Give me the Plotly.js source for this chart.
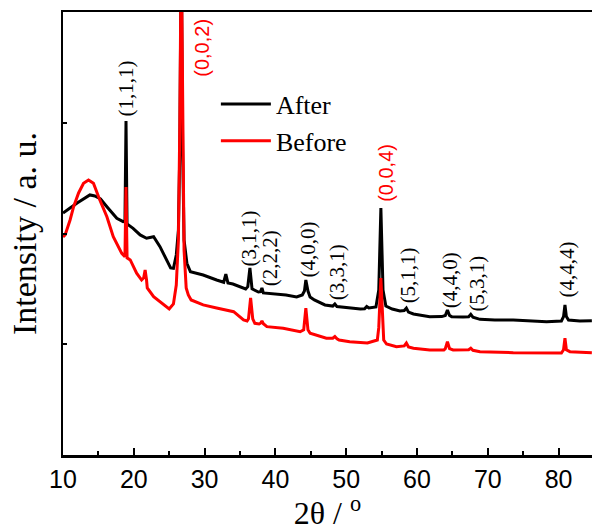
<!DOCTYPE html>
<html><head><meta charset="utf-8">
<script src="https://cdn.plot.ly/plotly-3.0.1.min.js"></script>
<style>html,body{margin:0;padding:0;background:#fff}#chart{width:592px;height:531px}</style>
</head><body><div id="chart"></div>
<script>
// After (black)
const afterX = [10.0,10.3,11.0,12.0,13.0,13.8,14.5,15.3,16.2,17.0,17.6,18.5,18.75,18.9,19.05,19.9,20.9,21.8,22.8,23.7,24.6,25.2,25.6,26.0,26.3,26.5,26.7,26.9,27.1,27.5,28.0,29.8,31.7,32.7,33.0,33.3,34.0,35.0,35.8,36.1,36.4,36.7,37.6,37.9,38.1,38.3,40.0,41.5,43.0,43.8,44.1,44.3,44.6,44.9,45.5,47.0,48.1,48.4,48.7,50.5,52.0,52.6,52.9,53.2,54.2,54.6,54.9,55.2,55.6,56.5,57.6,58.2,58.5,58.8,59.5,61.8,63.5,64.0,64.3,64.6,64.9,66.5,67.3,67.6,67.9,68.9,71.0,73.6,76.0,78.3,80.4,80.7,80.9,81.1,81.4,83.0,84.7];
const afterY = [218.5,219.7,223,227.6,232,234.8,233.9,231.2,224.2,218.5,213.7,210.7,211,301.6,208.6,204.7,198.7,195.7,197.1,188.1,176.1,168.9,168.6,180.6,203,275.4,465,275.4,194.1,173.1,165.5,162.5,158,156,163.4,155.3,154.4,151.7,149.9,152,168.9,150,147.2,147.5,150.8,146.3,145.4,144.5,142.7,144.5,148,158,148,142.7,140,135.5,134.5,136.4,134,132.5,131.8,132,134.1,132.7,133.6,149,223,149,134.5,131.8,130,130.5,132.7,129,127.3,124.9,125,126,130.9,126,124.9,124.6,124.8,127,124.5,122.5,121.9,121.9,121,120.4,121,125,135.5,125,121.9,121,121.3];
// Before (red)
const beforeX = [10.0,10.3,11.0,11.5,12.2,12.9,13.6,14.3,15.2,16.2,17.1,17.8,18.3,18.75,18.9,19.05,19.5,20.4,21.1,21.4,21.6,21.8,21.9,22.8,23.7,25.0,25.6,26.0,26.3,26.5,26.7,26.9,27.1,27.4,27.7,28.1,29.8,31.7,32.5,34.1,35.5,36.0,36.2,36.5,36.8,37.1,37.7,37.9,38.1,38.3,38.8,41.1,43.5,44.0,44.3,44.6,44.9,47.2,48.1,48.4,48.7,49.0,50.5,53.0,54.4,54.6,54.9,55.2,55.3,55.7,57.1,58.2,58.5,58.8,59.5,61.8,63.8,64.0,64.3,64.6,65.1,67.3,67.6,67.9,68.9,73.6,78.3,80.4,80.7,80.9,81.1,81.6,84.7];
const beforeY = [196.9,198.7,212.2,224.2,236.6,245.3,248.3,245.3,230.3,215.2,197.1,187.8,182.1,179.1,242,178,176.1,164.1,158,160,167,158,150.8,143,138.2,131.8,136.4,153.5,194,300,465,300,185,150.8,144.5,140,135.5,132.7,131.8,129.4,121.9,121,123,141.8,123,118.9,118.3,119,121,118.5,115.9,114.4,111.3,113,132.7,113,109.9,105.4,105.5,107,105,103.8,102.3,101.1,103.8,115,159.8,115,103.8,100.2,97.8,98.5,101.1,97.5,96.4,94.8,94.8,96,102.3,96,94.8,95,96.4,94.5,93.3,92.4,91.8,92.1,95,105.4,95,93.3,92.4];

const peakLabels = ['(1,1,1)','(0,0,2)','(3,1,1)','(2,2,2)','(4,0,0)','(3,3,1)','(0,0,4)','(5,1,1)','(4,4,0)','(5,3,1)','(4,4,4)'];
const labelX = [18.9,29.6,36.4,39.2,44.6,48.8,55.6,58.7,64.7,68.5,81.2];
const labelY = [331,367.5,195.5,177.4,185.6,164.8,254.6,162,158,154.9,167.5];
const redLabels = ['(0,0,2)','(0,0,4)'];

const serif = 'Liberation Serif, Times New Roman, serif';
const sans = 'Liberation Sans, Arial, sans-serif';

const annotations = peakLabels.map((t, i) => {
  const red = redLabels.includes(t);
  return {
    x: labelX[i], y: labelY[i], xref: 'x', yref: 'y',
    text: t, showarrow: false, textangle: -90,
    xanchor: 'center', yanchor: 'middle',
    font: {family: red ? sans : serif, size: red ? 20 : 21, color: red ? '#ff0000' : '#000000'}
  };
});

const traces = [
  {x: afterX, y: afterY, type: 'scatter', mode: 'lines', name: 'After',
   line: {color: '#000000', width: 3}},
  {x: beforeX, y: beforeY, type: 'scatter', mode: 'lines', name: 'Before',
   line: {color: '#ff0000', width: 3}}
];

const layout = {
  width: 592, height: 531,
  margin: {l: 63, r: 0, t: 12, b: 76},
  paper_bgcolor: '#ffffff', plot_bgcolor: '#ffffff',
  showlegend: true,
  legend: {x: 0.289, y: 0.845, xanchor: 'left', yanchor: 'top', bgcolor: 'rgba(0,0,0,0)',
           itemwidth: 50,
           font: {family: serif, size: 26, color: '#000000'}, tracegroupgap: 0},
  xaxis: {
    range: [10, 84.72], tick0: 10, dtick: 10,
    ticks: 'inside', ticklen: 7, tickwidth: 2, tickcolor: '#000000',
    minor: {dtick: 5, tick0: 5, ticks: 'inside', ticklen: 4, tickwidth: 2, tickcolor: '#000000'},
    showline: true, linewidth: 2.5, linecolor: '#000000', mirror: true,
    showgrid: false, zeroline: false,
    tickfont: {family: sans, size: 25, color: '#000000'},
    title: {text: '2θ / <sup>o</sup>', font: {family: serif, size: 32, color: '#000000'}, standoff: 4}
  },
  yaxis: {
    range: [0, 400], tick0: 0, dtick: 100,
    ticks: 'inside', ticklen: 4, tickwidth: 2, tickcolor: '#000000',
    showticklabels: false,
    showline: true, linewidth: 2.5, linecolor: '#000000', mirror: false,
    showgrid: false, zeroline: false,
    title: {text: 'Intensity / a. u.', font: {family: serif, size: 34, color: '#000000'}, standoff: 14}
  },
  annotations: annotations
};

Plotly.newPlot('chart', traces, layout, {displayModeBar: false, staticPlot: true});
</script>
</body></html>
